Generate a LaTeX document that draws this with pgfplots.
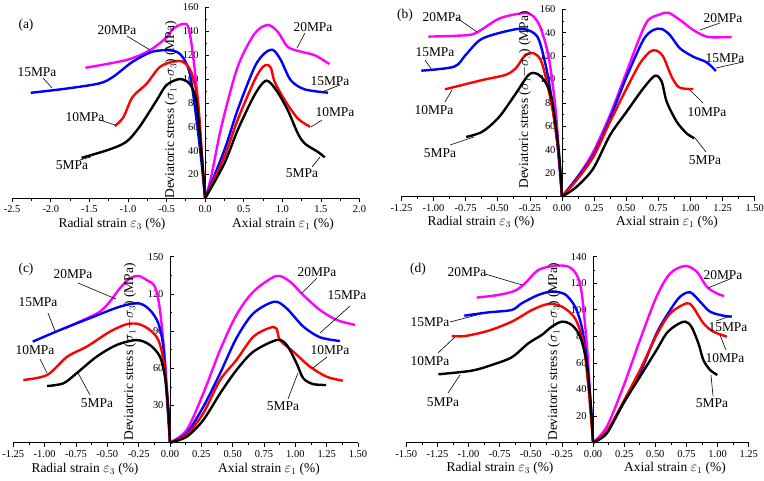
\documentclass[border=0pt]{standalone}
\usepackage{pgfplots}
\pgfplotsset{compat=1.18}
\usepackage{fontspec}
\setmainfont{Liberation Serif}
\definecolor{mag}{RGB}{255,0,255}
\definecolor{blu}{RGB}{0,0,255}
\definecolor{rd}{RGB}{255,0,0}
\newcommand\lbfont{\fontsize{13.5}{15}\selectfont}
\pgfplotsset{
  panel/.style={
    scale only axis, anchor=south west,
    axis x line=bottom, axis y line=center,
    axis line style={-, line width=0.8bp},
    xtick align=outside, ytick align=inside,
    major tick length=4bp, minor tick length=2.2bp,
    minor x tick num=1, minor y tick num=1,
    tick style={black, line width=0.7bp},
    ymin=0,
    tick label style={font=\fontsize{10.5}{12}\selectfont},
    /pgf/number format/assume math mode=true,
    /pgf/number format/fixed, /pgf/number format/fixed zerofill,
    yticklabel style={/pgf/number format/precision=0, xshift=-3bp},
    clip=false,
  },
  cv/.style={line width=2.4bp, smooth, no markers, #1},
}
\begin{document}
\begin{tikzpicture}
\useasboundingbox (0,0) rectangle (764bp,481bp);
% ---------------- (a)
\begin{axis}[panel, at={(12.2bp,282.6bp)}, width=347.3bp, height=190.9bp,
  xmin=-2.5, xmax=2.0, ymax=160,
  xtick={-2.5,-2.0,-1.5,-1.0,-0.5,0,0.5,1.0,1.5,2.0},
  ytick={20,40,...,160},
  xticklabel style={/pgf/number format/precision=1}]
\addplot[cv=mag] coordinates {(-1.55,109.5) (-1.02,116) (-0.72,124) (-0.50,135) (-0.42,142) (-0.30,146) (-0.22,144) (-0.16,121.5) (-0.095,82) (-0.05,40) (0,0)};
\addplot[cv=mag] coordinates {(0,0) (0.078,18) (0.21,60) (0.42,110) (0.64,138) (0.81,145.3) (0.94,139.7) (1.07,127) (1.24,123) (1.42,120) (1.61,112.6)};
\addplot[cv=blu] coordinates {(-2.26,88.5) (-1.80,92) (-1.37,96.4) (-1.19,102) (-0.94,114.5) (-0.68,123) (-0.44,124) (-0.31,120) (-0.20,105) (-0.116,68) (-0.05,32) (0,0)};
\addplot[cv=blu] coordinates {(0,0) (0.25,40.6) (0.42,74) (0.64,110) (0.77,121.6) (0.88,124.4) (0.98,116) (1.11,99) (1.29,91.4) (1.59,88.6)};
\addplot[cv=rd] coordinates {(-1.17,60.6) (-1.06,68) (-0.94,85) (-0.76,96) (-0.59,110) (-0.42,114.5) (-0.29,114.5) (-0.18,106) (-0.095,82) (-0.04,35) (0,0)};
\addplot[cv=rd] coordinates {(0,0) (0.25,35) (0.42,65.7) (0.64,99) (0.75,110.4) (0.81,111.8) (0.855,109) (0.90,97.8) (1.03,82.5) (1.20,67) (1.36,60)};
\addplot[cv=black] coordinates {(-1.60,34) (-1.24,41) (-1.02,47.5) (-0.85,60) (-0.63,82) (-0.50,95) (-0.33,100) (-0.20,96) (-0.116,82) (-0.05,40) (0,0)};
\addplot[cv=black] coordinates {(0,0) (0.25,29.4) (0.42,57) (0.64,86.7) (0.79,98.7) (0.92,90.8) (1.07,74) (1.20,54.6) (1.29,46) (1.46,39) (1.55,34.4)};
\end{axis}
% ---------------- (b)
\begin{axis}[panel, at={(401.4bp,284.3bp)}, width=353.3bp, height=187.4bp,
  xmin=-1.25, xmax=1.5, ymax=160,
  xtick={-1.25,-1.0,-0.75,-0.5,-0.25,0,0.25,0.5,0.75,1.0,1.25,1.5},
  ytick={20,40,...,160},
  xticklabel style={/pgf/number format/precision=2}]
\addplot[cv=mag] coordinates {(-1.04,136.7) (-0.80,137.5) (-0.675,139.5) (-0.49,152) (-0.31,156.6) (-0.234,155) (-0.17,145) (-0.104,119.6) (-0.052,77) (-0.026,40) (0,0)};
\addplot[cv=mag] coordinates {(0,0) (0.114,15.7) (0.244,38.4) (0.374,69.8) (0.503,106.7) (0.607,136.6) (0.672,150.9) (0.763,155.7) (0.827,157.1) (0.918,150.9) (1.022,142.3) (1.126,136.6) (1.23,136.1) (1.32,136.3)};
\addplot[cv=blu] coordinates {(-1.095,107.6) (-0.84,111) (-0.75,121) (-0.62,135) (-0.36,143) (-0.26,142) (-0.18,134) (-0.104,99.6) (-0.039,48) (0,0)};
\addplot[cv=blu] coordinates {(0,0) (0.114,15.7) (0.244,35.5) (0.374,67) (0.503,102.4) (0.633,133.8) (0.71,142.3) (0.776,143.2) (0.84,138) (0.918,126.7) (1.022,119.5) (1.126,114.7) (1.198,107.3)};
\addplot[cv=rd] coordinates {(-0.91,91.7) (-0.62,99.6) (-0.44,104) (-0.36,109.6) (-0.285,121) (-0.22,122.4) (-0.156,114) (-0.078,77) (-0.026,37) (0,0)};
\addplot[cv=rd] coordinates {(0,0) (0.114,14.2) (0.244,34) (0.374,64) (0.503,92.5) (0.607,113.9) (0.685,123.8) (0.737,124.7) (0.788,119.5) (0.853,102.5) (0.905,93.9) (0.97,92) (1.022,92)};
\addplot[cv=black] coordinates {(-0.745,51) (-0.62,55.5) (-0.49,68) (-0.36,88) (-0.26,104) (-0.195,105) (-0.13,98) (-0.078,82.6) (-0.026,40) (0,0)};
\addplot[cv=black] coordinates {(0,0) (0.114,8.5) (0.244,24.2) (0.374,52.6) (0.503,72.6) (0.633,92.5) (0.724,103.3) (0.776,98.2) (0.815,81.1) (0.893,64) (0.97,54.1) (1.03,49.9)};
\end{axis}
% ---------------- (c)
\begin{axis}[panel, at={(13.3bp,38.3bp)}, width=344.7bp, height=186bp,
  xmin=-1.25, xmax=1.5, ymax=150,
  xtick={-1.25,-1.0,-0.75,-0.5,-0.25,0,0.25,0.5,0.75,1.0,1.25,1.5},
  ytick={30,60,...,150},
  xticklabel style={/pgf/number format/precision=2}]
\addplot[cv=mag] coordinates {(-0.838,92.3) (-0.69,99) (-0.56,105.6) (-0.48,113.7) (-0.40,124.5) (-0.32,132.6) (-0.25,134.4) (-0.186,131.2) (-0.12,125.8) (-0.08,107) (-0.04,66.7) (-0.013,26.4) (0,0)};
\addplot[cv=mag] coordinates {(0,0) (0.133,10.2) (0.266,39.8) (0.40,74.8) (0.53,103) (0.665,121.8) (0.846,134.4) (0.957,129.9) (1.063,119) (1.197,107) (1.33,99) (1.476,95)};
\addplot[cv=blu] coordinates {(-1.095,81.5) (-0.877,90.9) (-0.61,101.6) (-0.40,109.7) (-0.25,112.4) (-0.16,107) (-0.093,96.3) (-0.053,77.4) (-0.027,39.8) (0,0)};
\addplot[cv=blu] coordinates {(0,0) (0.133,7.7) (0.266,29) (0.40,56) (0.53,84.3) (0.665,104.3) (0.832,113.7) (0.93,108.4) (1.063,93.7) (1.197,85) (1.356,82)};
\addplot[cv=rd] coordinates {(-1.17,50.6) (-0.98,54.6) (-0.82,69.4) (-0.665,77.4) (-0.48,89.5) (-0.346,95.5) (-0.25,95.7) (-0.16,90.9) (-0.093,82.8) (-0.053,66.7) (-0.02,34.4) (0,0)};
\addplot[cv=rd] coordinates {(0,0) (0.133,6.4) (0.266,23.8) (0.40,50.6) (0.53,66.7) (0.665,85.5) (0.798,92.7) (0.85,92) (0.877,82.8) (0.984,73.4) (1.117,61.3) (1.25,53.2) (1.378,50)};
\addplot[cv=black] coordinates {(-0.98,45.7) (-0.85,47.9) (-0.745,56) (-0.585,69.4) (-0.425,78.8) (-0.266,82.8) (-0.16,78.8) (-0.08,69.4) (-0.04,53.3) (-0.013,26.4) (0,0)};
\addplot[cv=black] coordinates {(0,0) (0.133,4.8) (0.266,18.3) (0.40,39.8) (0.53,58.5) (0.665,73.4) (0.851,82.8) (0.93,79) (1.01,64) (1.063,52) (1.14,47.3) (1.245,46.5)};
\end{axis}
% ---------------- (d)
\begin{axis}[panel, at={(406.3bp,38.3bp)}, width=342.4bp, height=186bp,
  xmin=-1.5, xmax=1.25, ymax=140,
  xtick={-1.5,-1.25,-1.0,-0.75,-0.5,-0.25,0,0.25,0.5,0.75,1.0,1.25},
  ytick={20,40,...,140},
  xticklabel style={/pgf/number format/precision=2}]
\addplot[cv=mag] coordinates {(-0.934,109.2) (-0.76,111.2) (-0.627,114.4) (-0.546,120) (-0.44,130) (-0.305,133.2) (-0.198,132.5) (-0.131,126.2) (-0.091,112.4) (-0.051,74.8) (-0.024,37.2) (0,0)};
\addplot[cv=mag] coordinates {(0,0) (0.11,12) (0.243,42.2) (0.377,77.3) (0.51,110) (0.62,127.5) (0.74,133) (0.833,128.7) (0.913,117.4) (0.994,112.4) (1.052,110.4)};
\addplot[cv=blu] coordinates {(-1.034,95.6) (-0.84,98.1) (-0.653,99.9) (-0.573,104.9) (-0.44,111.2) (-0.332,113.7) (-0.225,111.7) (-0.145,102.4) (-0.091,87.3) (-0.051,62.3) (-0.016,24.6) (0,0)};
\addplot[cv=blu] coordinates {(0,0) (0.11,8.3) (0.243,29.6) (0.377,52.2) (0.51,82.3) (0.62,99.9) (0.70,110) (0.78,113.2) (0.86,106.1) (0.94,98.6) (1.047,95.6) (1.114,94.9)};
\addplot[cv=rd] coordinates {(-1.135,80.3) (-1.028,80.3) (-0.84,84.3) (-0.653,91.1) (-0.49,99.9) (-0.36,104.4) (-0.25,102.4) (-0.145,93.6) (-0.078,74.8) (-0.038,42.2) (0,0)};
\addplot[cv=rd] coordinates {(0,0) (0.11,8.3) (0.243,30.8) (0.377,54.7) (0.51,81) (0.62,97.4) (0.75,104.9) (0.80,102.4) (0.886,89.9) (0.966,83.6) (1.074,79.8)};
\addplot[cv=black] coordinates {(-1.242,51.5) (-0.975,54.2) (-0.814,58.5) (-0.653,64.3) (-0.52,74.8) (-0.412,81.1) (-0.332,87.3) (-0.25,91.1) (-0.171,88.6) (-0.104,79.8) (-0.051,59.8) (-0.016,24.6) (0,0)};
\addplot[cv=black] coordinates {(0,0) (0.11,7) (0.243,29.6) (0.377,49.7) (0.51,69.8) (0.59,82.3) (0.67,88.6) (0.74,91.1) (0.79,87.3) (0.846,74.8) (0.886,62.2) (0.94,54.7) (0.998,51)};
\end{axis}
% ---------------- annotations (pixel coordinates, y downward)
\begin{scope}[yshift=481bp, x=1bp, y=-1bp, font=\lbfont]
\tikzset{ld/.style={line width=0.6bp}}
% (a)
\node at (26,25) {(a)};
\node at (117,30) {20MPa}; \draw[ld] (127,36) -- (150,50);
\node at (37,72) {15MPa}; \draw[ld] (43,78) -- (52,88);
\node at (85,117) {10MPa}; \draw[ld] (100,120) -- (115,125);
\node at (72,165) {5MPa}; \draw[ld] (80,160) -- (91,157);
\node at (313,27) {20MPa}; \draw[ld] (305,33) -- (297,48);
\node at (330,81) {15MPa}; \draw[ld] (340,85) -- (322,92);
\node at (335,112) {10MPa}; \draw[ld] (322,120) -- (311,127);
\node at (302,173) {5MPa}; \draw[ld] (312,167) -- (320,157);
\node at (112,224) {Radial strain $\varepsilon_3$ (\%)};
\node at (283,224) {Axial strain $\varepsilon_1$ (\%)};
\node[rotate=90] at (171,110) {Deviatoric stress ($\sigma_1$$-$$\sigma_3$) (MPa)};
% (b)
\node at (405,15) {(b)};
\node at (442,17) {20MPa}; \draw[ld] (457,18) -- (477,32);
\node at (435,52) {15MPa}; \draw[ld] (425,60) -- (432,70);
\node at (434,110) {10MPa}; \draw[ld] (445,102) -- (452,90);
\node at (440,153) {5MPa}; \draw[ld] (450,145) -- (474,137);
\node at (723,18) {20MPa}; \draw[ld] (720,23) -- (700,30);
\node at (725,58) {15MPa}; \draw[ld] (743,62) -- (716,68);
\node at (707,112) {10MPa}; \draw[ld] (703,103) -- (690,90);
\node at (705,160) {5MPa}; \draw[ld] (706,152) -- (695,138);
\node at (481,222) {Radial strain $\varepsilon_3$ (\%)};
\node at (667,222) {Axial strain $\varepsilon_1$ (\%)};
\node[rotate=90] at (525,100) {Deviatoric stress ($\sigma_1$$-$$\sigma_3$) (MPa)};
% (c)
\node at (26,269) {(c)};
\node at (73,274) {20MPa}; \draw[ld] (78,283) -- (116,299);
\node at (38,302) {15MPa}; \draw[ld] (48,313) -- (55,331);
\node at (35,350) {10MPa}; \draw[ld] (40,359) -- (47,373);
\node at (97,403) {5MPa}; \draw[ld] (90,395) -- (78,373);
\node at (317,272) {20MPa}; \draw[ld] (317,278) -- (302,293);
\node at (347,295) {15MPa}; \draw[ld] (350,306) -- (320,333);
\node at (330,350) {10MPa}; \draw[ld] (327,357) -- (313,368);
\node at (283,406) {5MPa}; \draw[ld] (288,399) -- (298,373);
\node at (85,469) {Radial strain $\varepsilon_3$ (\%)};
\node at (269,469) {Axial strain $\varepsilon_1$ (\%)};
\node[rotate=90] at (130,352) {Deviatoric stress ($\sigma_1$$-$$\sigma_3$) (MPa)};
% (d)
\node at (418,269) {(d)};
\node at (467,272) {20MPa}; \draw[ld] (485,274) -- (522,285);
\node at (430,322) {15MPa}; \draw[ld] (450,322) -- (477,315);
\node at (430,361) {10MPa}; \draw[ld] (438,353) -- (455,337);
\node at (443,402) {5MPa}; \draw[ld] (448,393) -- (460,375);
\node at (723,275) {20MPa}; \draw[ld] (730,279) -- (708,288);
\node at (728,327) {15MPa}; \draw[ld] (716,321) -- (731,316);
\node at (725,358) {10MPa}; \draw[ld] (726,350) -- (720,335);
\node at (712,403) {5MPa}; \draw[ld] (713,396) -- (711,375);
\node at (500,468) {Radial strain $\varepsilon_3$ (\%)};
\node at (675,468) {Axial strain $\varepsilon_1$ (\%)};
\node[rotate=90] at (554,352) {Deviatoric stress ($\sigma_1$$-$$\sigma_3$) (MPa)};
\end{scope}
\end{tikzpicture}
\end{document}
